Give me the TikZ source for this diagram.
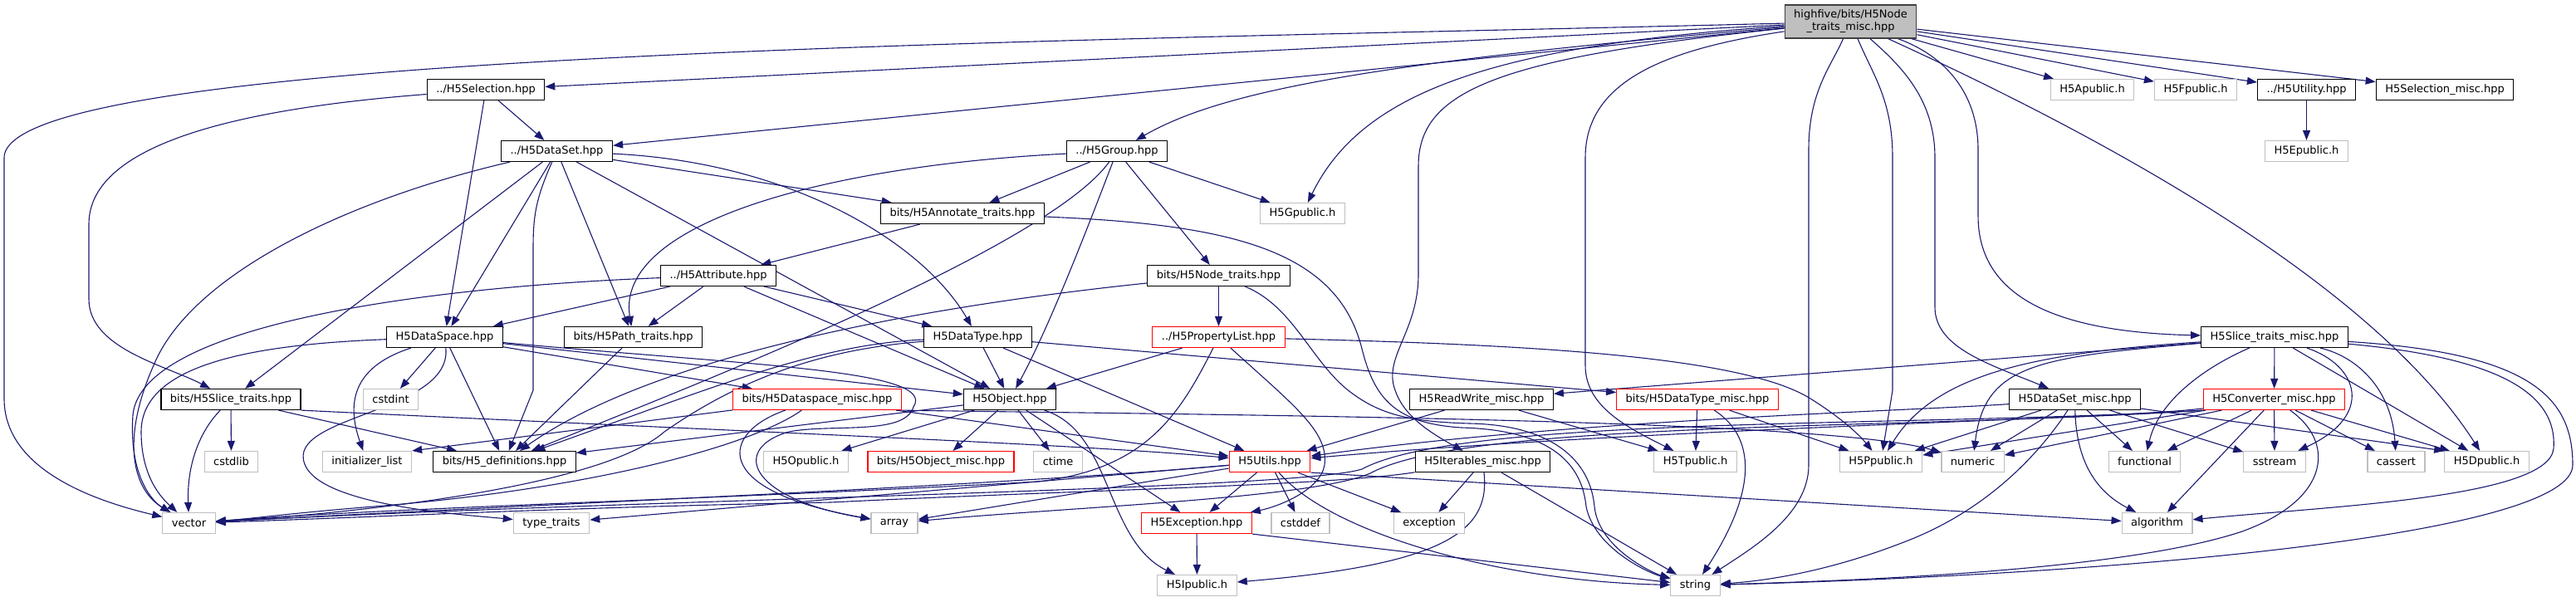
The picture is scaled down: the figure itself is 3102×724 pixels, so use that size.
\documentclass[tikz,border=0pt]{standalone}
\usepackage{fontspec}
\setmainfont{DejaVu Sans}
\usetikzlibrary{arrows.meta,backgrounds}
\definecolor{edgeblue}{HTML}{191970}
\definecolor{sysgray}{HTML}{BFBFBF}
\definecolor{rootfill}{HTML}{BFBFBF}
\definecolor{rootline}{HTML}{404040}
\tikzset{
  fblk/.style   = {draw, fill=white, line width=1.2pt, minimum height=25pt,
                   inner xsep=11pt, inner ysep=2pt, font=\fontsize{13}{15}\selectfont},
  docblk/.style = {fblk, draw=black},
  sysblk/.style = {fblk, draw=sysgray},
  cutblk/.style = {fblk, draw=red},
  topblk/.style = {fblk, draw=rootline, fill=rootfill, align=center,
                   minimum height=40pt, inner ysep=3pt},
  dep/.style    = {draw=edgeblue, line width=1.1pt, -{Triangle[length=12pt,width=9pt]}}
}

\begin{document}
\begin{tikzpicture}[x=1pt, y=-1pt]
\useasboundingbox (0,0) rectangle (3102,724);
% ---- files ----
\node[topblk] (rootf) at (2228.5,26) {highfive/bits/H5Node\\\_traits\_misc.hpp};
\node[docblk] (sel) at (585,108) {../H5Selection.hpp};
\node[sysblk] (apub) at (2519.5,108) {H5Apublic.h};
\node[sysblk] (fpub) at (2644,108) {H5Fpublic.h};
\node[docblk] (uty) at (2777.5,108) {../H5Utility.hpp};
\node[docblk] (selm) at (2944,108) {H5Selection\_misc.hpp};
\node[docblk] (dset) at (670.5,182) {../H5DataSet.hpp};
\node[docblk] (grp) at (1345,182) {../H5Group.hpp};
\node[sysblk] (epub) at (2777.5,182) {H5Epublic.h};
\node[docblk] (annot) at (1159,257) {bits/H5Annotate\_traits.hpp};
\node[sysblk] (gpub) at (1568.5,257) {H5Gpublic.h};
\node[docblk] (attr) at (865,332) {../H5Attribute.hpp};
\node[docblk] (ntr) at (1467.5,332) {bits/H5Node\_traits.hpp};
\node[docblk] (dspace) at (535.5,406) {H5DataSpace.hpp};
\node[docblk] (pathtr) at (762.5,406) {bits/H5Path\_traits.hpp};
\node[docblk] (dtype) at (1177.5,406) {H5DataType.hpp};
\node[cutblk] (plist) at (1467.5,406) {../H5PropertyList.hpp};
\node[docblk] (stm) at (2739,406) {H5Slice\_traits\_misc.hpp};
\node[docblk] (slicetr) at (278,481) {bits/H5Slice\_traits.hpp};
\node[sysblk] (cstdint) at (470.5,481) {cstdint};
\node[cutblk] (dspm) at (984,481) {bits/H5Dataspace\_misc.hpp};
\node[docblk] (obj) at (1216,481) {H5Object.hpp};
\node[docblk] (rwm) at (1784,481) {H5ReadWrite\_misc.hpp};
\node[cutblk] (dtm) at (2044,481) {bits/H5DataType\_misc.hpp};
\node[docblk] (dsmi) at (2498.5,481) {H5DataSet\_misc.hpp};
\node[cutblk] (cvm) at (2738.5,481) {H5Converter\_misc.hpp};
\node[sysblk] (cstdlib) at (278.5,556) {cstdlib};
\node[sysblk] (initl) at (442,556) {initializer\_list};
\node[docblk] (defs) at (607.5,556) {bits/H5\_definitions.hpp};
\node[sysblk] (opub) at (970.5,556) {H5Opublic.h};
\node[cutblk] (objm) at (1133,556) {bits/H5Object\_misc.hpp};
\node[sysblk] (ctime) at (1274,556) {ctime};
\node[cutblk] (utl) at (1529,556) {H5Utils.hpp};
\node[docblk] (iter) at (1785.5,556) {H5Iterables\_misc.hpp};
\node[sysblk] (tpub) at (2041.5,556) {H5Tpublic.h};
\node[sysblk] (ppub) at (2265,556) {H5Ppublic.h};
\node[sysblk] (numeric) at (2375.5,556) {numeric};
\node[sysblk] (functional) at (2582.5,556) {functional};
\node[sysblk] (sstream) at (2739,556) {sstream};
\node[sysblk] (cassert) at (2885.5,556) {cassert};
\node[sysblk] (dpub) at (2994.5,556) {H5Dpublic.h};
\node[sysblk] (vector) at (227.5,630) {vector};
\node[sysblk] (ttraits) at (664,630) {type\_traits};
\node[sysblk] (array) at (1077,630) {array};
\node[cutblk] (exc) at (1441,630) {H5Exception.hpp};
\node[sysblk] (cstddef) at (1566,630) {cstddef};
\node[sysblk] (except) at (1721,630) {exception};
\node[sysblk] (algo) at (2597.5,630) {algorithm};
\node[sysblk] (ipub) at (1441.5,705) {H5Ipublic.h};
\node[sysblk] (string) at (2041.5,705) {string};

\begin{scope}[on background layer]
% ---- root file ----
\draw[dep] (rootf) .. controls (1300,50) and (5,60) .. (5,190) -- (5,480) .. controls (5,560) and (100,600) .. (vector);
\foreach \t in {sel,dset,apub,fpub,uty,selm} \draw[dep] (rootf) -- (\t);
\draw[dep] (rootf) .. controls (1650,75) and (1470,110) .. (grp);
\draw[dep] (rootf) .. controls (1800,55) and (1640,110) .. (gpub);
\draw[dep] (rootf) .. controls (1800,70) and (1708,110) .. (1708,200) -- (1708,330)
  .. controls (1708,400) and (1665,430) .. (1680,470) .. controls (1690,500) and (1720,520) .. (iter);
\draw[dep] (rootf) .. controls (2000,60) and (1909,100) .. (1909,190) -- (1909,440) .. controls (1909,490) and (1960,515) .. (tpub);
\draw[dep] (rootf) .. controls (2205,80) and (2178,110) .. (2178,180) -- (2178,560) .. controls (2178,620) and (2110,660) .. (string);
\draw[dep] (rootf) .. controls (2255,90) and (2279,120) .. (2279,190) -- (2279,470) -- (ppub);
\draw[dep] (rootf) .. controls (2290,80) and (2330,120) .. (2330,190) -- (2330,370) .. controls (2330,420) and (2400,440) .. (dsmi);
\draw[dep] (rootf) .. controls (2350,70) and (2382,120) .. (2382,180) -- (2382,260) .. controls (2382,360) and (2480,400) .. (stm);
\draw[dep] (rootf) .. controls (2500,150) and (2850,330) .. (dpub);

% ---- ../H5Selection.hpp ----
\draw[dep] (sel) -- (dset);
\draw[dep] (sel) -- (dspace);
\draw[dep] (sel) .. controls (300,130) and (107,170) .. (107,270) -- (107,360) .. controls (107,420) and (200,440) .. (slicetr);

% ---- ../H5DataSet.hpp ----
\draw[dep] (dset) .. controls (420,240) and (230,330) .. (185,440) .. controls (145,530) and (160,590) .. (vector);
\foreach \t in {slicetr,dspace,pathtr,obj,annot} \draw[dep] (dset) -- (\t);
\draw[dep] (dset) .. controls (645,240) and (642,260) .. (642,300) -- (642,470) -- (defs);
\draw[dep] (dset) .. controls (950,195) and (1110,290) .. (dtype);

% ---- ../H5Group.hpp ----
\foreach \t in {annot,gpub,ntr} \draw[dep] (grp) -- (\t);
\draw[dep] (grp) .. controls (1300,300) and (1260,400) .. (obj);
\draw[dep] (grp) .. controls (990,200) and (740,270) .. (pathtr);
\draw[dep] (grp) .. controls (1260,300) and (820,470) .. (defs);

% ---- annotate, attribute, node traits ----
\draw[dep] (annot) -- (attr);
\draw[dep] (annot) .. controls (1480,270) and (1610,300) .. (1640,420) .. controls (1655,480) and (1680,510) .. (1760,515)
  .. controls (1870,518) and (1905,560) .. (1910,610) .. controls (1920,660) and (1985,690) .. (string);
\draw[dep] (attr) .. controls (520,345) and (170,390) .. (160,500) .. controls (155,575) and (185,605) .. (vector);
\foreach \t in {dspace,pathtr,dtype,obj} \draw[dep] (attr) -- (\t);
\draw[dep] (ntr) .. controls (1150,365) and (800,420) .. (defs);
\draw[dep] (ntr) -- (plist);
\draw[dep] (ntr) .. controls (1560,370) and (1580,440) .. (1630,475) .. controls (1665,500) and (1700,508) .. (1770,510)
  .. controls (1870,512) and (1915,555) .. (1920,610) .. controls (1925,660) and (1990,690) .. (string);

% ---- H5DataSpace.hpp ----
\draw[dep] (dspace) .. controls (300,415) and (170,440) .. (170,520) .. controls (170,575) and (195,600) .. (vector);
\draw[dep] (dspace) .. controls (430,440) and (415,480) .. (initl);
\foreach \t in {cstdint,defs,obj,dspm} \draw[dep] (dspace) -- (\t);
\draw[dep] (dspace) .. controls (545,500) and (330,500) .. (370,565) .. controls (400,610) and (560,620) .. (ttraits);
\draw[dep] (dspace) .. controls (900,440) and (1130,445) .. (1100,490) .. controls (1090,525) and (1000,510) .. (950,520)
  .. controls (880,540) and (900,600) .. (array);

% ---- traits, datatype, property list ----
\draw[dep] (pathtr) -- (defs);
\draw[dep] (slicetr) .. controls (240,520) and (225,560) .. (vector);
\draw[dep] (slicetr) -- (cstdlib);
\draw[dep] (slicetr) -- (defs);
\draw[dep] (slicetr.south east) .. controls (900,520) and (1300,535) .. (utl);
\draw[dep] (dtype) .. controls (1000,420) and (900,450) .. (800,520) .. controls (720,590) and (400,620) .. (vector);
\draw[dep] (dtype) .. controls (980,415) and (850,470) .. (defs);
\foreach \t in {obj,utl,dtm} \draw[dep] (dtype) -- (\t);
\draw[dep] (plist) -- (obj);
\draw[dep] (plist) .. controls (1420,500) and (1380,565) .. (1250,580) .. controls (900,600) and (500,610) .. (vector);
\draw[dep] (plist) .. controls (1560,490) and (1600,520) .. (1595,560) .. controls (1590,590) and (1540,610) .. (exc);
\draw[dep] (plist) .. controls (1850,415) and (2100,430) .. (2180,480) .. controls (2220,505) and (2240,525) .. (ppub);

% ---- H5Slice_traits_misc.hpp ----
\draw[dep] (stm) -- (rwm);
\draw[dep] (stm) .. controls (2450,425) and (2330,450) .. (ppub);
\draw[dep] (stm) .. controls (2450,430) and (2390,440) .. (numeric);
\draw[dep] (stm) .. controls (2660,440) and (2600,480) .. (functional);
\draw[dep] (stm) -- (cvm);
\draw[dep] (stm) .. controls (2840,440) and (2860,500) .. (sstream);
\draw[dep] (stm) .. controls (2840,430) and (2880,470) .. (cassert);
\draw[dep] (stm) -- (dpub);
\draw[dep] (stm) .. controls (3000,430) and (3080,470) .. (3075,540) .. controls (3070,600) and (2800,610) .. (algo);
\draw[dep] (stm) .. controls (3050,425) and (3098,480) .. (3098,560) .. controls (3098,640) and (2600,690) .. (string);

% ---- H5Converter_misc.hpp ----
\draw[dep] (cvm) .. controls (2550,505) and (2000,515) .. (utl);
\draw[dep] (cvm.south west) .. controls (2300,515) and (1760,500) .. (1640,565) .. controls (1560,590) and (800,600) .. (vector);
\draw[dep] (cvm.south west) .. controls (2300,518) and (1770,505) .. (1650,570) .. controls (1580,600) and (1300,610) .. (array);
\foreach \t in {ppub,numeric,functional,algo,sstream,cassert,dpub} \draw[dep] (cvm) -- (\t);
\draw[dep] (cvm) .. controls (2810,530) and (2810,600) .. (2700,640) .. controls (2550,690) and (2200,700) .. (string);

% ---- H5DataSet_misc.hpp ----
\draw[dep] (dsmi) .. controls (2300,495) and (1900,505) .. (utl);
\foreach \t in {numeric,ppub,functional,sstream} \draw[dep] (dsmi) -- (\t);
\draw[dep] (dsmi) -- (dpub.north west);
\draw[dep] (dsmi) .. controls (2460,540) and (2400,610) .. (2300,650) .. controls (2200,690) and (2120,700) .. (string);
\draw[dep] (dsmi) .. controls (2500,550) and (2520,590) .. (algo);

% ---- remaining headers ----
\draw[dep] (rwm) -- (utl);
\draw[dep] (rwm) -- (tpub);
\draw[dep] (dtm) -- (tpub);
\draw[dep] (dtm) -- (ppub);
\draw[dep] (dtm) .. controls (2120,530) and (2110,600) .. (string);
\draw[dep] (dspm) -- (initl.north east);
\draw[dep] (dspm) .. controls (870,520) and (850,590) .. (array);
\draw[dep] (dspm) .. controls (900,540) and (700,590) .. (450,610) .. controls (350,618) and (300,625) .. (vector);
\draw[dep] (dspm) -- (utl);
\draw[dep] (dspm.south east) .. controls (1500,500) and (2200,505) .. (numeric);
\draw[dep] (obj) -- (defs);
\foreach \t in {opub,objm,ctime,exc} \draw[dep] (obj) -- (\t);
\draw[dep] (obj) .. controls (1340,520) and (1330,650) .. (ipub);
\draw[dep] (utl) -- (array);
\draw[dep] (utl) .. controls (1200,585) and (700,605) .. (vector);
\foreach \t in {ttraits,exc,cstddef,except} \draw[dep] (utl) -- (\t);
\draw[dep] (utl) .. controls (1600,640) and (1800,700) .. (string);
\draw[dep] (utl.south east) -- (algo);
\draw[dep] (iter) .. controls (1600,585) and (1300,590) .. (1000,605) .. controls (700,610) and (400,625) .. (vector);
\draw[dep] (iter) -- (except);
\draw[dep] (iter) .. controls (1795,640) and (1740,680) .. (ipub);
\draw[dep] (iter) -- (string);
\draw[dep] (exc) -- (ipub);
\draw[dep] (exc.south east) -- (string);
\draw[dep] (uty) -- (epub);
\end{scope}
\end{tikzpicture}
\end{document}
